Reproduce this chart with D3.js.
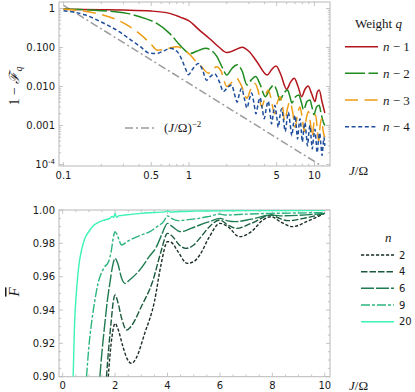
<!DOCTYPE html>
<html><head><meta charset="utf-8">
<script src="https://cdn.jsdelivr.net/npm/d3@7"></script>
<style>
html,body{margin:0;padding:0;background:#fff;}
svg{display:block;}
</style></head>
<body>
<svg id="chart" width="415" height="392"></svg>
<script>
// ---------- DATA: top panel (J/Ω, 1 - F_q) ----------
const seriesN1 = [[0.1,0.95],[0.2,0.93],[0.3,0.91],[0.5,0.86],[0.7,0.75],[0.85,0.6],[1.0,0.48],[1.21,0.28],[1.47,0.165],[1.73,0.103],[2.0,0.074],[2.3,0.085],[2.65,0.102],[3.0,0.08],[3.5,0.042],[4.2,0.0197],[4.55,0.027],[4.94,0.0336],[5.4,0.02],[6.0,0.0085],[6.45,0.013],[6.9,0.0162],[7.4,0.01],[7.9,0.0055],[8.4,0.0085],[8.9,0.0103],[9.5,0.0065],[10.1,0.0041],[10.5,0.007],[10.9,0.0081],[11.5,0.004],[12.1,0.0021]];
const seriesN2 = [[0.1,0.97],[0.2,0.88],[0.32,0.75],[0.45,0.55],[0.55,0.42],[0.7,0.23],[0.87,0.105],[1.02,0.07],[1.15,0.08],[1.35,0.095],[1.5,0.085],[1.66,0.06],[1.85,0.03],[2.0,0.0197],[2.2,0.029],[2.42,0.036],[2.65,0.025],[2.9,0.011],[3.15,0.015],[3.4,0.018],[3.7,0.011],[4.06,0.0055],[4.4,0.0085],[4.75,0.0109],[5.0,0.008],[5.3,0.0045],[5.7,0.0067],[6.1,0.0081],[6.35,0.0058],[6.6,0.0038],[7.0,0.0053],[7.5,0.0061],[7.85,0.004],[8.2,0.0025],[8.7,0.0041],[9.2,0.0045],[9.55,0.003],[9.9,0.0019],[10.4,0.003],[10.9,0.0033],[11.3,0.002],[11.8,0.0012],[12.1,0.001]];
const seriesN3 = [[0.1,0.95],[0.2,0.7],[0.32,0.38],[0.43,0.19],[0.5,0.12],[0.56,0.085],[0.65,0.09],[0.8,0.105],[0.92,0.085],[1.02,0.065],[1.12,0.046],[1.26,0.032],[1.43,0.022],[1.55,0.028],[1.66,0.032],[1.8,0.025],[2.0,0.01],[2.2,0.013],[2.4,0.0163],[2.6,0.011],[2.9,0.005],[3.1,0.0085],[3.36,0.012],[3.55,0.008],[3.8,0.003],[4.05,0.0055],[4.28,0.0081],[4.5,0.005],[4.8,0.002],[5.05,0.0038],[5.3,0.0055],[5.55,0.0033],[5.8,0.0013],[6.1,0.0028],[6.38,0.0041],[6.7,0.0022],[7.0,0.0009],[7.35,0.002],[7.66,0.003],[8.0,0.0015],[8.3,0.0007],[8.6,0.0015],[8.94,0.0023],[9.3,0.0011],[9.6,0.0005],[9.9,0.0012],[10.2,0.0019],[10.5,0.0009],[10.8,0.0004],[11.1,0.001],[11.4,0.0015],[11.75,0.0007],[12.1,0.0005]];
const seriesN4 = [[0.1,0.88],[0.15,0.68],[0.2,0.45],[0.28,0.25],[0.35,0.15],[0.41,0.105],[0.48,0.072],[0.55,0.07],[0.62,0.08],[0.71,0.095],[0.8,0.08],[0.88,0.048],[0.94,0.028],[0.99,0.02],[1.07,0.028],[1.19,0.039],[1.28,0.027],[1.38,0.0145],[1.48,0.018],[1.6,0.021],[1.75,0.013],[1.88,0.0074],[2.03,0.0095],[2.19,0.011],[2.3,0.0065],[2.42,0.004],[2.52,0.0065],[2.63,0.009],[2.76,0.005],[2.9,0.0028],[3.03,0.0048],[3.16,0.0068],[3.3,0.0036],[3.42,0.002],[3.55,0.0035],[3.68,0.0052],[3.83,0.0028],[3.98,0.0015],[4.13,0.0028],[4.28,0.0042],[4.42,0.0022],[4.55,0.0011],[4.7,0.0021],[4.84,0.0033],[5.0,0.0017],[5.15,0.0009],[5.3,0.0017],[5.48,0.0027],[5.66,0.0014],[5.85,0.0007],[6.02,0.0013],[6.19,0.0022],[6.4,0.0011],[6.6,0.00055],[6.8,0.0011],[7.0,0.0018],[7.17,0.0009],[7.33,0.00045],[7.5,0.0009],[7.67,0.0015],[7.85,0.00075],[8.0,0.00038],[8.2,0.00075],[8.4,0.0012],[8.6,0.0006],[8.8,0.0003],[9.0,0.0006],[9.2,0.001],[9.4,0.0005],[9.6,0.00025],[9.85,0.0005],[10.1,0.0008],[10.3,0.0004],[10.5,0.0002],[10.75,0.0004],[11.0,0.00065],[11.25,0.00033],[11.5,0.00017],[11.7,0.0003],[11.9,0.0005],[12.1,0.0003]];
const powerLaw = [[0.1,1.2],[13.3,0.0000678]];
const topLegendLabels = ["n − 1","n − 2","n − 3","n − 4"];
const topXTicks = [0.1,0.5,1,5,10];
const topXTickLabels = ["0.1","0.5","1","5","10"];
const topYTicks = [1,0.1,0.01,0.001,0.0001];
const topYTickLabels = ["1","0.100","0.010","0.001","10^-4"];

// ---------- DATA: bottom panel (J/Ω, mean F) ----------
const fidN2 = [[1.74,0.90],[1.8,0.912],[1.9,0.926],[2.0,0.932],[2.1,0.929],[2.3,0.918],[2.45,0.911],[2.63,0.908],[2.8,0.911],[3.13,0.926],[3.5,0.945],[3.75,0.967],[4.0,0.981],[4.15,0.9805],[4.4,0.975],[4.75,0.968],[5.0,0.969],[5.23,0.973],[5.6,0.984],[6.0,0.992],[6.3,0.99],[6.75,0.984],[7.2,0.987],[7.64,0.994],[7.96,0.996],[8.3,0.993],[8.78,0.990],[9.3,0.993],[10,0.998]];
const fidN4 = [[1.67,0.90],[1.75,0.916],[1.85,0.933],[1.93,0.945],[2.0,0.949],[2.1,0.945],[2.25,0.935],[2.44,0.928],[2.6,0.93],[3.0,0.942],[3.45,0.958],[3.75,0.975],[4.0,0.986],[4.2,0.984],[4.45,0.979],[4.7,0.977],[5.0,0.979],[5.23,0.983],[5.6,0.99],[6.0,0.994],[6.3,0.991],[6.63,0.989],[7.2,0.992],[7.96,0.997],[8.2,0.9955],[8.6,0.9936],[9.2,0.995],[10,0.998]];
const fidN6 = [[1.42,0.90],[1.5,0.915],[1.61,0.932],[1.7,0.945],[1.8,0.956],[1.9,0.966],[2.0,0.971],[2.1,0.968],[2.25,0.959],[2.37,0.956],[2.55,0.958],[2.94,0.964],[3.3,0.972],[3.58,0.978],[3.8,0.986],[4.0,0.992],[4.15,0.9905],[4.5,0.987],[4.9,0.989],[5.23,0.991],[5.6,0.993],[6.0,0.995],[6.3,0.9935],[6.6,0.993],[7.2,0.9945],[7.96,0.997],[8.3,0.9965],[9,0.9968],[10,0.998]];
const fidN9 = [[0.91,0.90],[1.0,0.918],[1.1,0.932],[1.23,0.946],[1.35,0.956],[1.5,0.963],[1.61,0.966],[1.75,0.969],[1.85,0.975],[1.95,0.985],[2.0,0.987],[2.08,0.985],[2.25,0.979],[2.45,0.981],[2.7,0.983],[3.0,0.985],[3.33,0.987],[3.6,0.99],[3.85,0.993],[4.0,0.9965],[4.15,0.995],[4.4,0.9936],[4.8,0.9942],[5.2,0.995],[5.6,0.9962],[6.0,0.9975],[6.2,0.997],[7,0.9975],[8,0.998],[9,0.9982],[10,0.9985]];
const fidN20 = [[0.40,0.90],[0.45,0.93],[0.53,0.952],[0.62,0.967],[0.72,0.976],[0.85,0.983],[1.04,0.988],[1.2,0.991],[1.42,0.993],[1.6,0.994],[1.8,0.995],[1.88,0.9962],[1.95,0.9955],[2.0,0.998],[2.06,0.9956],[2.15,0.9966],[2.3,0.9968],[2.6,0.9974],[3.0,0.998],[3.5,0.9985],[3.9,0.9989],[4.0,0.9995],[4.1,0.9988],[4.5,0.9991],[5,0.9993],[6,0.9995],[7,0.9996],[8,0.9997],[9,0.9997],[10,0.9998]];
const bottomLegendLabels = ["2","4","6","9","20"];
const bottomXTicks = [0,2,4,6,8,10];
const bottomYTicks = [0.90,0.92,0.94,0.96,0.98,1.00];

// ---------- STYLES ----------
const topSeries = [
  {data: seriesN1, color: "#b3151c", dash: null},
  {data: seriesN2, color: "#1f8a1f", dash: "20,3.5"},
  {data: seriesN3, color: "#ee9c14", dash: "13,6.5"},
  {data: seriesN4, color: "#1f4e9c", dash: "4,2.6"}
];
const bottomSeries = [
  {data: fidN2, color: "#1b2e26", dash: "3.2,1.8"},
  {data: fidN4, color: "#1c5a3d", dash: "6.5,2"},
  {data: fidN6, color: "#1f7b51", dash: "13,2"},
  {data: fidN9, color: "#2bb47e", dash: "9,2,3,2"},
  {data: fidN20, color: "#3cf2b6", dash: null}
];

const svg = d3.select("#chart");
const FRAME = "#b8b8b8";
const TXT = "#1a1a1a";
const SANS = "'DejaVu Sans', sans-serif";
const SERIF = "'Liberation Serif','DejaVu Serif', serif";

// ================= TOP PANEL =================
const tL = 59, tR = 330, tT = 2, tB = 166;
const xT = d3.scaleLog().domain([0.092, 13.3]).range([tL, tR]);
const yT = d3.scaleLog().domain([1.468, 9.16e-5]).range([tT, tB]);

svg.append("clipPath").attr("id","clipT").append("rect")
  .attr("x",tL).attr("y",tT).attr("width",tR-tL).attr("height",tB-tT);

// ticks
const gT = svg.append("g");
const xMinorT = [];
[0.1,1,10].forEach(d => { for (let k=1;k<10;k++){ const v=d*k; if (v>0.092 && v<13.3) xMinorT.push(v);} });
xMinorT.forEach(v => {
  const major = topXTicks.includes(+v.toPrecision(3));
  const len = major ? 4 : 2.2;
  gT.append("line").attr("x1",xT(v)).attr("x2",xT(v)).attr("y1",tB).attr("y2",tB-len).attr("stroke",FRAME).attr("stroke-width",0.8);
  gT.append("line").attr("x1",xT(v)).attr("x2",xT(v)).attr("y1",tT).attr("y2",tT+len).attr("stroke",FRAME).attr("stroke-width",0.8);
});
const yMinorT = [];
[0.0001,0.001,0.01,0.1,1].forEach(d => { for (let k=1;k<10;k++){ const v=d*k; if (v>9.16e-5 && v<1.468) yMinorT.push(v);} });
yMinorT.forEach(v => {
  const major = Math.abs(Math.log10(v) - Math.round(Math.log10(v))) < 1e-6;
  const len = major ? 4 : 2.2;
  gT.append("line").attr("x1",tL).attr("x2",tL+len).attr("y1",yT(v)).attr("y2",yT(v)).attr("stroke",FRAME).attr("stroke-width",0.8);
  gT.append("line").attr("x1",tR).attr("x2",tR-len).attr("y1",yT(v)).attr("y2",yT(v)).attr("stroke",FRAME).attr("stroke-width",0.8);
});
gT.append("rect").attr("x",tL).attr("y",tT).attr("width",tR-tL).attr("height",tB-tT)
  .attr("fill","none").attr("stroke",FRAME).attr("stroke-width",1);

// tick labels
topXTicks.forEach((v,i) => {
  gT.append("text").attr("x",xT(v)).attr("y",179).attr("text-anchor","middle")
    .attr("font-family",SANS).attr("font-size",10).attr("fill",TXT).text(topXTickLabels[i]);
});
topYTicks.forEach((v,i) => {
  const lab = topYTickLabels[i];
  const t = gT.append("text").attr("x",55).attr("y",yT(v)+3.6).attr("text-anchor","end")
    .attr("font-family",SANS).attr("font-size",10).attr("fill",TXT);
  if (lab.includes("^")) {
    const [b,e] = lab.split("^");
    t.append("tspan").text(b);
    t.append("tspan").attr("dy",-4).attr("font-size",7).text(e.replace("-","-"));
  } else t.text(lab);
});

// curves
const lineT = d3.line().x(d=>xT(d[0])).y(d=>yT(d[1])).curve(d3.curveMonotoneX);
const curvesT = svg.append("g").attr("clip-path","url(#clipT)");
curvesT.append("path").datum(powerLaw).attr("d", d3.line().x(d=>xT(d[0])).y(d=>yT(d[1])))
  .attr("fill","none").attr("stroke","#9c9c9c").attr("stroke-width",1.5).attr("stroke-dasharray","8,3,2,3");
topSeries.forEach(s => {
  curvesT.append("path").datum(s.data).attr("d",lineT).attr("fill","none")
    .attr("stroke",s.color).attr("stroke-width",1.5).attr("stroke-dasharray",s.dash);
});

// power-law legend
svg.append("line").attr("x1",125).attr("x2",157).attr("y1",128).attr("y2",128)
  .attr("stroke","#9c9c9c").attr("stroke-width",1.5).attr("stroke-dasharray","8,3,2,3");
const pl = svg.append("text").attr("x",164).attr("y",132).attr("font-family",SERIF).attr("font-size",13).attr("fill",TXT);
pl.append("tspan").text("(");
pl.append("tspan").attr("font-style","italic").text("J");
pl.append("tspan").text("/Ω)");
pl.append("tspan").attr("dy",-5).attr("font-size",9).text("−2");

// top legend
const wq = svg.append("text").attr("x",355).attr("y",28).attr("font-family",SERIF).attr("font-size",13).attr("fill",TXT);
wq.append("tspan").text("Weight ");
wq.append("tspan").attr("font-style","italic").text("q");
const legYT = [46.7,73.3,100,126.7];
topSeries.forEach((s,i) => {
  svg.append("line").attr("x1",345).attr("x2",378).attr("y1",legYT[i]).attr("y2",legYT[i])
    .attr("stroke",s.color).attr("stroke-width",1.5).attr("stroke-dasharray",s.dash);
  const parts = topLegendLabels[i].split(" ");
  const t = svg.append("text").attr("x",383).attr("y",legYT[i]+4.5).attr("font-family",SERIF).attr("font-size",13).attr("fill",TXT);
  t.append("tspan").attr("font-style","italic").text(parts[0]);
  t.append("tspan").text(" " + parts.slice(1).join(" "));
});

// axis labels top
const jl1 = svg.append("text").attr("x",349).attr("y",175).attr("font-family",SERIF).attr("font-size",13).attr("fill",TXT);
jl1.append("tspan").attr("font-style","italic").text("J");
jl1.append("tspan").text("/Ω");
const yl1 = svg.append("text").attr("transform","translate(19,86) rotate(-90)").attr("text-anchor","middle")
  .attr("font-family",SERIF).attr("font-size",14).attr("fill",TXT);
yl1.append("tspan").text("1 − ");
yl1.append("tspan").attr("font-style","italic").text("ℱ");
yl1.append("tspan").attr("dy",3).attr("font-size",10).attr("font-style","italic").text("q");

// ================= BOTTOM PANEL =================
const bL = 59, bR = 330, bT = 210, bB = 376.7;
const xB = d3.scaleLinear().domain([-0.14, 10.2]).range([bL, bR]);
const yB = d3.scaleLinear().domain([0.90, 1.00]).range([bB, bT]);

svg.append("clipPath").attr("id","clipB").append("rect")
  .attr("x",bL).attr("y",bT).attr("width",bR-bL).attr("height",bB-bT);

const gB = svg.append("g");
d3.range(0, 10.01, 0.5).forEach(v => {
  const major = Math.abs(v % 2) < 1e-6;
  const len = major ? 4 : 2.2;
  gB.append("line").attr("x1",xB(v)).attr("x2",xB(v)).attr("y1",bB).attr("y2",bB-len).attr("stroke",FRAME).attr("stroke-width",0.8);
  gB.append("line").attr("x1",xB(v)).attr("x2",xB(v)).attr("y1",bT).attr("y2",bT+len).attr("stroke",FRAME).attr("stroke-width",0.8);
});
d3.range(0, 21).forEach(k => {
  const v = 0.90 + k*0.005;
  const major = k % 4 === 0;
  const len = major ? 4 : 2.2;
  gB.append("line").attr("x1",bL).attr("x2",bL+len).attr("y1",yB(v)).attr("y2",yB(v)).attr("stroke",FRAME).attr("stroke-width",0.8);
  gB.append("line").attr("x1",bR).attr("x2",bR-len).attr("y1",yB(v)).attr("y2",yB(v)).attr("stroke",FRAME).attr("stroke-width",0.8);
});
gB.append("rect").attr("x",bL).attr("y",bT).attr("width",bR-bL).attr("height",bB-bT)
  .attr("fill","none").attr("stroke",FRAME).attr("stroke-width",1);

bottomXTicks.forEach(v => {
  gB.append("text").attr("x",xB(v)).attr("y",389).attr("text-anchor","middle")
    .attr("font-family",SANS).attr("font-size",10).attr("fill",TXT).text(d3.format("d")(v));
});
bottomYTicks.forEach(v => {
  gB.append("text").attr("x",55).attr("y",yB(v)+3.6).attr("text-anchor","end")
    .attr("font-family",SANS).attr("font-size",10).attr("fill",TXT).text(d3.format(".2f")(v));
});

const lineB = d3.line().x(d=>xB(d[0])).y(d=>yB(d[1])).curve(d3.curveMonotoneX);
const curvesB = svg.append("g").attr("clip-path","url(#clipB)");
bottomSeries.forEach(s => {
  curvesB.append("path").datum(s.data).attr("d",lineB).attr("fill","none")
    .attr("stroke",s.color).attr("stroke-width",1.4).attr("stroke-dasharray",s.dash);
});

// bottom legend
svg.append("text").attr("x",385).attr("y",242).attr("font-family",SERIF).attr("font-size",13)
  .attr("font-style","italic").attr("fill",TXT).text("n");
const legYB = [255,271.7,288.3,305,321.7];
bottomSeries.forEach((s,i) => {
  svg.append("line").attr("x1",361).attr("x2",394).attr("y1",legYB[i]).attr("y2",legYB[i])
    .attr("stroke",s.color).attr("stroke-width",1.4).attr("stroke-dasharray",s.dash);
  svg.append("text").attr("x",399).attr("y",legYB[i]+3.6).attr("font-family",SANS).attr("font-size",10)
    .attr("fill",TXT).text(bottomLegendLabels[i]);
});

const jl2 = svg.append("text").attr("x",349).attr("y",390).attr("font-family",SERIF).attr("font-size",13).attr("fill",TXT);
jl2.append("tspan").attr("font-style","italic").text("J");
jl2.append("tspan").text("/Ω");
svg.append("text").attr("transform","translate(19,292) rotate(-90)").attr("text-anchor","middle")
  .attr("font-family",SERIF).attr("font-size",15).attr("font-style","italic").attr("fill",TXT)
  .attr("text-decoration","overline").text("F");
</script>
</body></html>
